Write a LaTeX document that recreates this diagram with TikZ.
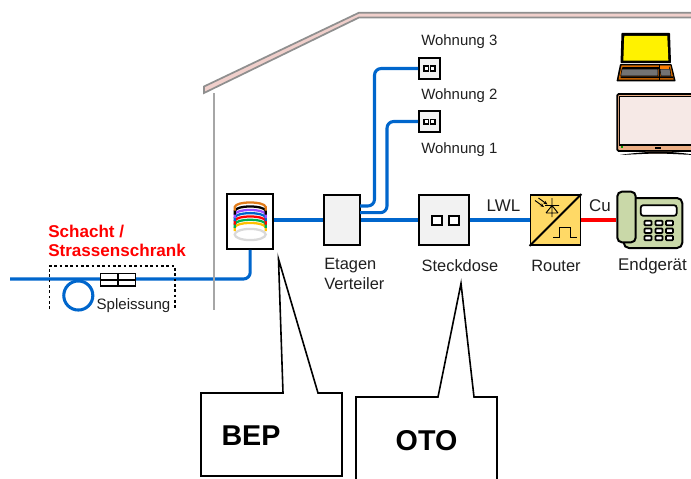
\documentclass[tikz,border=0pt]{standalone}
\usepackage{fontspec}
\usetikzlibrary{arrows.meta}
\setmainfont{Liberation Sans}
\definecolor{fibre}{HTML}{0066CC}
\definecolor{inktext}{HTML}{1F1F1F}
\definecolor{boxfill}{HTML}{F2F2F2}
\definecolor{routerfill}{HTML}{FFD966}
\definecolor{phonefill}{HTML}{C9D8A8}
\definecolor{roofpink}{HTML}{F0CFCB}
\definecolor{roofline}{HTML}{8F8F8F}
\definecolor{tvbody}{HTML}{EBAE84}
\definecolor{tvscreen}{HTML}{F6E9E6}
\definecolor{ringY}{HTML}{FFC000}
\definecolor{ringG}{HTML}{00B050}
\definecolor{ringP}{HTML}{9A4DFF}
\definecolor{ringO}{HTML}{E07B1A}
\tikzset{
  px/.style={x=0.75pt,y=-0.75pt},
  fibreline/.style={draw=fibre,line width=2.3pt,rounded corners=5pt},
  devbox/.style={draw=black,line width=1.4pt,fill=boxfill,inner sep=0pt},
  lab/.style={font=\fontsize{12.3pt}{14pt}\selectfont,text=inktext,inner sep=0pt},
  wlab/.style={font=\fontsize{11.2pt}{13pt}\selectfont,text=inktext,inner sep=0pt,anchor=west},
  lableft/.style={lab,anchor=west},
  callout/.style={draw=black,line width=1.2pt,line join=miter},
  calltext/.style={font=\bfseries\fontsize{21.5pt}{25pt}\selectfont,text=black,inner sep=0pt},
  redlab/.style={font=\bfseries\fontsize{12.8pt}{15pt}\selectfont,text=red,inner sep=0pt,anchor=west},
  hole/.style={draw=black,line width=1.3pt,fill=white},
  key/.style={draw=black,line width=1.3pt,fill=white,rounded corners=0.6pt},
  sym/.style={draw=black,line width=0.7pt},
}
\begin{document}
\begin{tikzpicture}[px]
\useasboundingbox (0,0) rectangle (691,478);
\clip (0,0) rectangle (691,478);

% roof
\filldraw[fill=roofpink,draw=roofline,line width=1.3pt] (204,86.5) -- (359,12.7) -- (700,12.7) -- (700,17.5) -- (359,17.5) -- (204,93) -- cycle;

% device nodes
\node[devbox,minimum width=34.5pt,minimum height=41.5pt,fill=white] (bep) at (250.2,221.3) {};
\node[devbox,minimum width=27pt,minimum height=37.5pt] (etagen) at (342,220) {};
\node[devbox,minimum width=37.5pt,minimum height=37.5pt] (dose) at (444,220) {};
\node[devbox,minimum width=37.5pt,minimum height=37.5pt,fill=routerfill] (router) at (555.5,220) {};
\node[devbox,minimum width=15.8pt,minimum height=15.8pt] (w3) at (429.5,68.5) {};
\node[devbox,minimum width=15.8pt,minimum height=15.8pt] (w2) at (429.5,121.5) {};

% phone
\node[draw=black,line width=1.5pt,fill=phonefill,rounded corners=4pt,minimum width=44pt,minimum height=37.5pt,inner sep=0pt] (phonebase) at (653,223) {};
\node[draw=black,line width=1.5pt,fill=phonefill,rounded corners=3.5pt,minimum width=13.8pt,minimum height=38pt,inner sep=0pt] (handset) at (626.5,217) {};
\node[draw=black,line width=1.3pt,fill=white,rounded corners=2pt,minimum width=27pt,minimum height=8pt,inner sep=0pt] (display) at (658.7,210.5) {};
\foreach \kx in {648,659,669.5}{\foreach \ky in {223,230.7,238}{
  \filldraw[key] (\kx-3.5,\ky-2.2) rectangle (\kx+3.5,\ky+2.2);}}

% connectors
\coordinate (tap) at (10,279);
\draw[fibreline] (tap) -| (bep.south);
\draw[fibreline] (etagen.west -| bep.east) -- (etagen.west);
\draw[fibreline] (etagen.east) -- (dose.west);
\draw[fibreline] (dose.east) -- (router.west);
\coordinate (e3) at (360,206);
\coordinate (e2) at (360,212.7);
\coordinate (b3) at (374.5,68.5);
\coordinate (b2) at (387,121.5);
\draw[fibreline] (e3) -| (b3) -- (w3.west);
\draw[fibreline] (e2) -| (b2) -- (w2.west);
\draw[red,line width=2.3pt] (router.east) -- (router.east -| handset.west);
\node[draw=fibre,line width=2.3pt,circle,minimum size=21.8pt,inner sep=0pt] (loop) at (78.3,295.5) {};

% wall
\draw[draw=black!35,line width=1.2pt] (214,93) -- (214,310);

% dotted enclosure
\draw[black,line width=1.1pt,dash pattern=on 2pt off 2pt] (49.3,309) -- (49.3,266) -- (175,266) -- (175,309);

% splice
\node[draw=black,line width=1.2pt,fill=white,minimum width=26pt,minimum height=9.2pt,inner sep=0pt] (splice) at (118,279.8) {};
\draw[black,line width=1.2pt] (splice.north) -- (splice.south) (splice.west) -- (splice.east);

% fibre bundle in BEP
\draw[black!15,line width=1.7pt] (250.2,234.5) ellipse [x radius=15.5,y radius=5.6];
\foreach \col/\yy in {ringY/224,ringG/220.8,red/217.5,fibre/214.2,ringP/211,black/207.5,ringO/203.5}{
  \draw[\col,line width=1.7pt] (234.7,\yy+7) -- (234.7,\yy+3.5) .. controls (236,\yy-2.6) and (264.4,\yy-2.6) .. (265.7,\yy+3.5) -- (265.7,\yy+7);
}

% sockets
\draw[hole] (432,216) rectangle (442,225);
\draw[hole] (449,216) rectangle (459,225);
\foreach \n in {w3,w2}{
  \draw[hole,line width=1.1pt] ([xshift=-4.2pt,yshift=-1.7pt]\n.center) rectangle ([xshift=-0.8pt,yshift=1.7pt]\n.center);
  \draw[hole,line width=1.1pt] ([xshift=0.8pt,yshift=-1.7pt]\n.center) rectangle ([xshift=4.2pt,yshift=1.7pt]\n.center);
}

% router symbols
\draw[black,line width=1.4pt] (router.south west) -- (router.north east);
\draw[sym] (552,198) -- (552,217) (545,205.5) -- (559,205.5) (546,213) -- (558,213) (546,213) -- (552,205.5) -- (558,213);
\draw[sym,-{Stealth[length=3pt,width=2.4pt]}] (535,200.5) -- (544,207);
\draw[sym,-{Stealth[length=3pt,width=2.4pt]}] (538.5,198) -- (547.5,204.5);
\draw[sym] (553,237.5) -- (559,237.5) -- (559,227) -- (570.5,227) -- (570.5,237.5) -- (577,237.5);

% laptop
\fill[black,rounded corners=0.5pt] (621.5,33) -- (670,33) -- (671,63) -- (620.5,63) -- cycle;
\fill[yellow] (624.3,36) -- (667.3,36) -- (668.3,60.7) -- (623.3,60.7) -- cycle;
\fill[black,rounded corners=0.5pt] (620,64) -- (671.5,64) -- (675.7,81.3) -- (616.5,81.3) -- cycle;
\fill[orange!85!black] (621.5,65.5) -- (670.5,65.5) -- (673.7,79.7) -- (618.5,79.7) -- cycle;
\fill[black] (622.5,67) -- (669.5,67) -- (669.7,69) -- (622,69) -- cycle;
\fill[black] (620.5,78) -- (673,78) -- (672.7,76.3) -- (621,76.3) -- cycle;
\fill[black] (658.7,65.5) rectangle (659.7,79.7);
\filldraw[fill=black!55,draw=black,line width=0.4pt] (622,69) -- (658,69) -- (658,76) -- (620.7,76) -- cycle;
\filldraw[fill=black!55,draw=black,line width=0.4pt] (660,69) -- (670,69) -- (671,76) -- (661,76) -- cycle;
\fill[orange] (660,65.8) rectangle (669,68.5);

% television
\filldraw[fill=tvbody,draw=black,line width=1.3pt,rounded corners=1pt] (617.3,94) rectangle (700,151);
\filldraw[fill=tvscreen,draw=black,line width=1.3pt] (619.5,96.5) rectangle (700,145);
\fill[green!60!black] (620.5,146.3) rectangle (622.5,148.3);
\fill[black] (655,146.7) rectangle (661,149);
\fill[tvbody!70!black] (645,151.5) -- (672,151.5) -- (668,153.5) -- (649,153.5) -- cycle;
\fill[black] (620,155) .. controls (632,153) and (644,152.5) .. (652,151.5) -- (665,151.5) .. controls (675,152.5) and (686,153) .. (695,155) .. controls (682,154.5) and (670,153.7) .. (658,153.5) .. controls (645,153.7) and (632,154.5) .. (620,155) -- cycle;

% callouts
\draw[callout] (283,393) -- (278.5,259) -- (318,393) -- (342,393) -- (342,476) -- (201,476) -- (201,393) -- cycle;
\draw[callout] (356,490) -- (356,397) -- (438,397) -- (461,283.5) -- (474,397) -- (497,397) -- (497,490);
\node[calltext] (beplab) at (251,435.5) {BEP};
\node[calltext] (otolab) at (426.5,441) {OTO};

% labels
\node[redlab] (l1) at (48,231.5) {Schacht /};
\node[redlab] (l2) at (48,250.5) {Strassenschrank};
\node[lab,font=\fontsize{11.3pt}{13pt}\selectfont] (l3) at (133.5,305.5) {Spleissung};
\node[wlab] (l4) at (421,42) {Wohnung 3};
\node[wlab] (l5) at (421,96) {Wohnung 2};
\node[wlab] (l6) at (421,150) {Wohnung 1};
\node[lab,font=\fontsize{12.7pt}{14pt}\selectfont] (l7) at (503.5,205.5) {LWL};
\node[lab,font=\fontsize{12.7pt}{14pt}\selectfont] (l8) at (600,205.5) {Cu};
\node[lableft] (l9) at (324,266) {Etagen};
\node[lableft] (l10) at (324,284) {Verteiler};
\node[lab] (l11) at (460,266) {Steckdose};
\node[lab] (l12) at (556,266) {Router};
\node[lab,font=\fontsize{12.7pt}{14pt}\selectfont] (l13) at (652.5,266) {Endgerät};
\end{tikzpicture}
\end{document}
